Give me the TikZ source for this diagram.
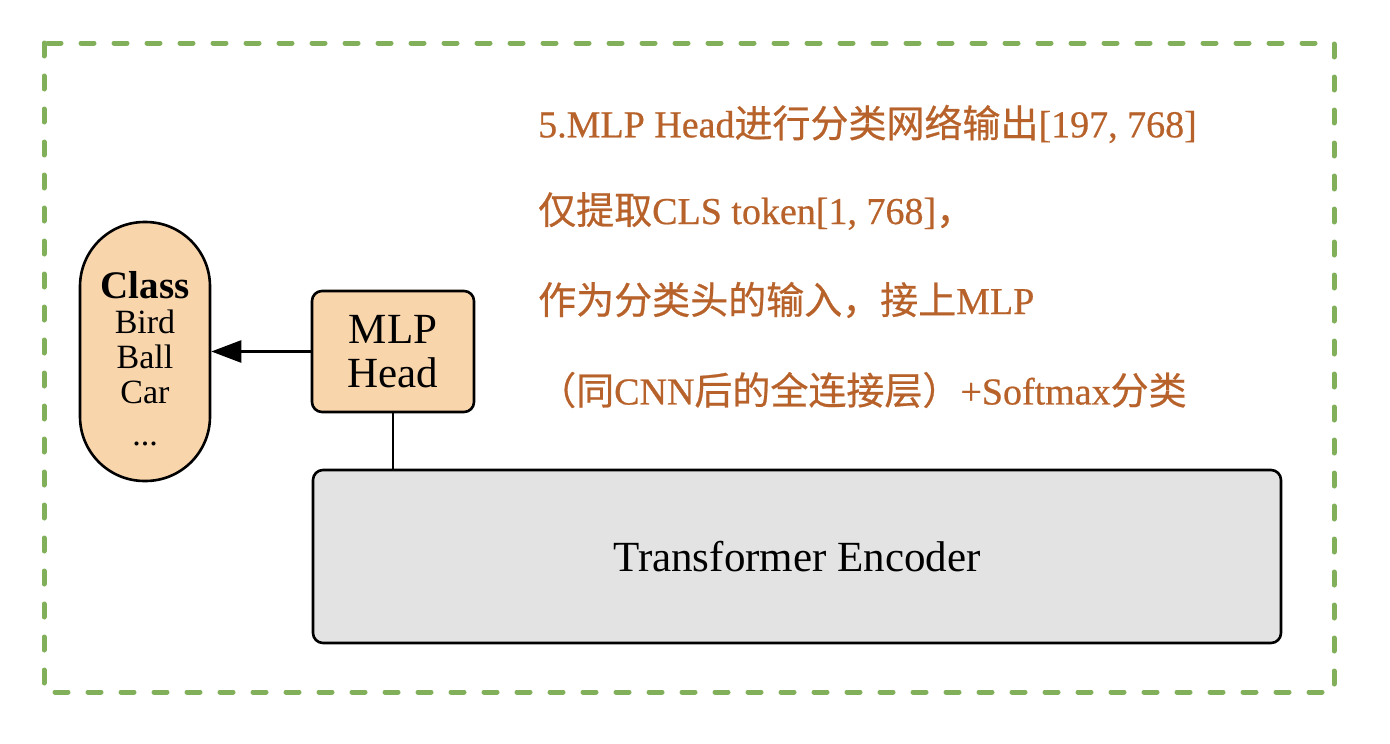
\documentclass[tikz,border=0pt]{standalone}
\usepackage{fontspec}
\setmainfont{Liberation Serif}
\newfontfamily\notelat{Liberation Serif}[FakeBold=0.6]
\newfontfamily\cjk{Noto Sans CJK SC}[FakeBold=0.6]
\usetikzlibrary{arrows.meta}
\definecolor{dashgreen}{HTML}{82B05A}
\definecolor{peach}{HTML}{F9D5AC}
\definecolor{encgray}{HTML}{E3E3E3}
\definecolor{noteorange}{HTML}{B8622B}
\newcommand{\zh}[1]{{\cjk #1}}
\begin{document}
\begin{tikzpicture}[x=1pt,y=-1pt,
  box/.style={draw=black, line width=2.6, rounded corners=10},
  pill/.style={draw=black, line width=2.6, fill=peach, rounded corners=64.5,
    minimum width=130, minimum height=259, inner sep=0, align=center},
  mlpbox/.style={box, fill=peach, minimum width=162, minimum height=121, inner sep=0, align=center,
    font=\fontsize{43}{44}\selectfont},
  encbox/.style={box, fill=encgray, minimum width=968, minimum height=173, inner sep=0,
    font=\fontsize{43}{48}\selectfont},
  note/.style={anchor=west, inner sep=0, text=noteorange, font=\notelat\fontsize{38}{42}\selectfont},
  conn/.style={line width=2.6, draw=black}
]
\useasboundingbox (0,0) rectangle (1390,744);
\draw[dashgreen, line width=5, line cap=round, dash pattern=on 13 off 20] (44,43) rectangle (1334,692);

\node[pill] (cls) at (145,351.5) {};
\node[inner sep=0, align=center, font=\fontsize{34}{35}\selectfont] (clstext) at (145,359)
  {{\fontsize{39}{35}\selectfont\textbf{Class}}\\Bird\\Ball\\Car\\[7pt]...};
\node[mlpbox] (mlp) at (393,351.5) {MLP\\Head};
\node[encbox] (enc) at (797,556.5) {Transformer Encoder};

\draw[conn, -{Triangle[length=30,width=22]}] (mlp.west) -- (cls.east);
\draw[conn] (mlp.south) -- (mlp.south |- enc.north);

\node[note] (n1) at (538,124) {5.MLP Head\zh{进行分类网络输出}[197, 768]};
\node[note] (n2) at (538,211) {\zh{仅提取}CLS token[1, 768]\zh{，}};
\node[note] (n3) at (538,300) {\zh{作为分类头的输入，接上}MLP};
\node[note] (n4) at (538,390) {\zh{（同}CNN\zh{后的全连接层）}+Softmax\zh{分类}};
\end{tikzpicture}
\end{document}
